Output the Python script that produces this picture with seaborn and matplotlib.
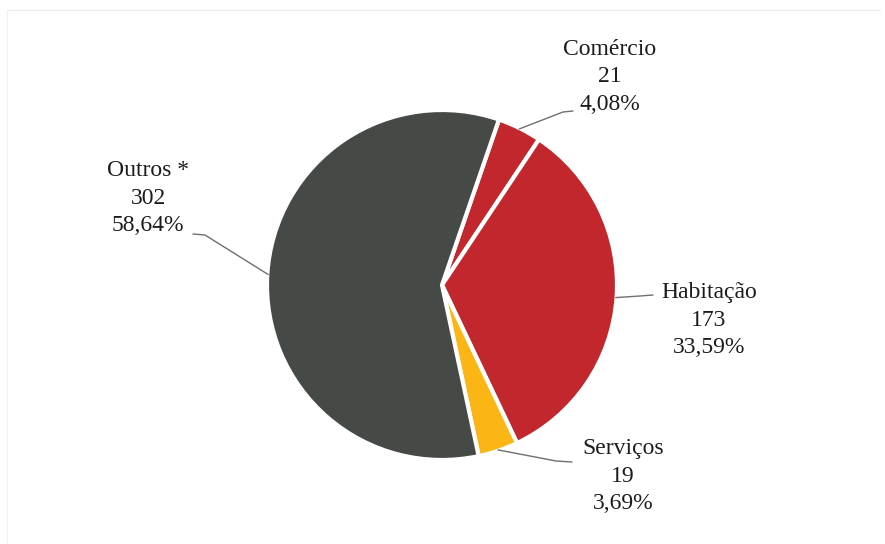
import numpy as np
import matplotlib.pyplot as plt
import seaborn as sns

sns.set_theme(style="white")
plt.rcParams['font.family'] = ['Liberation Serif', 'DejaVu Serif']

# data (clockwise from the top of the pie)
categorias = ['Comércio', 'Habitação', 'Serviços', 'Outros *']
valores = [21, 173, 19, 302]
percentuais = ['4,08%', '33,59%', '3,69%', '58,64%']
cores = ['#c1272d', '#c1272d', '#fbb515', '#464a46']

W, H = 885, 544
CX, CY, R = 442, 285, 175.0


def px(x, y):
    # pixel (from top-left) -> data units (pie radius = 1)
    return (x - CX) / R, (CY - y) / R


# label centres and leader-line points next to the text (pixels)
rotulo_pos = [(610, 77), (709, 320), (623, 476), (148, 198)]
linha_txt = [[(573, 111), (563, 112)],
             [(653, 295), (640, 296)],
             [(572, 462), (556, 461)],
             [(193, 234), (205, 235)]]

fig = plt.figure(figsize=(W / 100, H / 100), dpi=100)
ax = fig.add_axes([0, 0, 1, 1])

wedges, _ = ax.pie(valores, colors=cores, startangle=71, counterclock=False,
                   radius=1.0, center=(0, 0),
                   wedgeprops=dict(edgecolor='white', linewidth=3))
ax.set_xlim(-CX / R, (W - CX) / R)
ax.set_ylim(-(H - CY) / R, CY / R)
ax.set_axis_off()

for w, cat, v, p, pos, pts in zip(wedges, categorias, valores, percentuais,
                                  rotulo_pos, linha_txt):
    ang = np.deg2rad((w.theta1 + w.theta2) / 2)
    borda = (0.995 * np.cos(ang), 0.995 * np.sin(ang))
    tx, ty = px(*pos)
    ax.text(tx, ty, f'{cat}\n{v}\n{p}', ha='center', va='center', fontsize=17,
            color='#1c1c1c', linespacing=1.38)
    xs = [px(*q)[0] for q in pts] + [borda[0]]
    ys = [px(*q)[1] for q in pts] + [borda[1]]
    ax.plot(xs, ys, color='#6f6f6f', lw=1.0)

# faint scan border
x0, y0 = px(7, 10)
x1, y1 = px(880, H)
ax.plot([x0, x1], [y0, y0], color='#ececec', lw=0.8)
ax.plot([x0, x0], [y0, y1], color='#f0f0f0', lw=0.8)

fig.savefig('out.png', dpi=100)
